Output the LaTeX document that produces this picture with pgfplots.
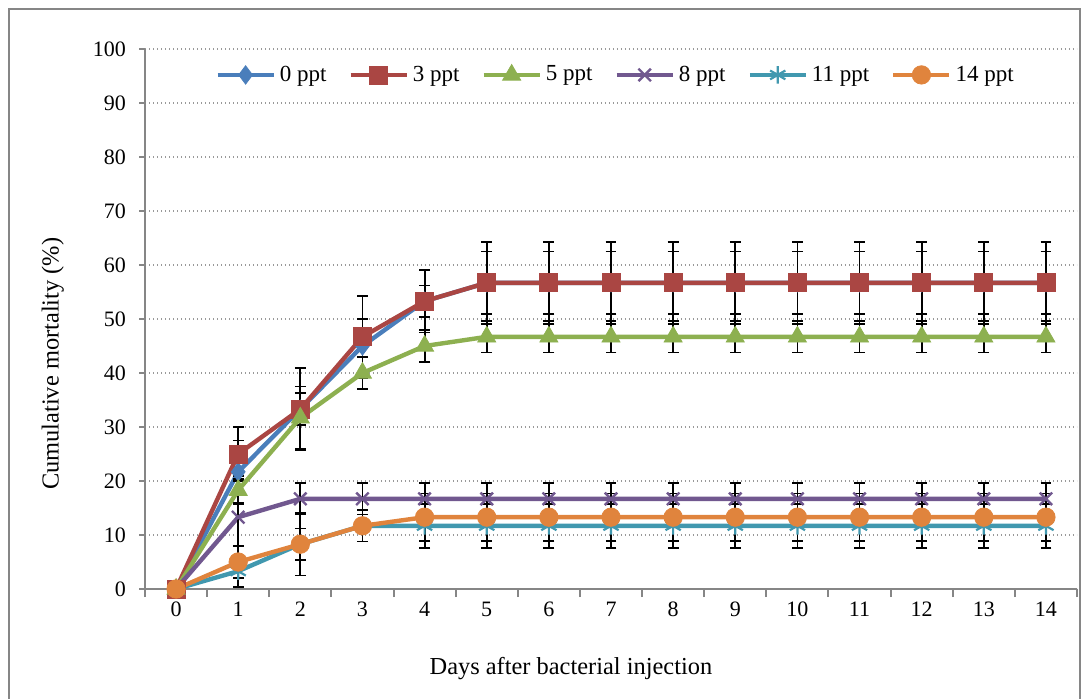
\documentclass[border=0pt]{standalone}
\usepackage{fontspec}
\setmainfont{Liberation Serif}
\usepackage{pgfplots}
\usepackage{pgfplotstable}
\pgfplotsset{compat=1.18}

\definecolor{sblue}{HTML}{4A7EBB}
\definecolor{sred}{HTML}{AA4643}
\definecolor{sgreen}{HTML}{8DB050}
\definecolor{spurple}{HTML}{71588F}
\definecolor{scyan}{HTML}{4198AF}
\definecolor{sorange}{HTML}{E0843D}
\definecolor{axgray}{HTML}{868686}

% day, mean cumulative mortality (%), error
\pgfplotstableread{
x y e
0 0 0
1 21.7 5.8
2 33.3 3.0
3 45.0 5.0
4 53.3 2.9
5 56.7 5.8
6 56.7 5.8
7 56.7 5.8
8 56.7 5.8
9 56.7 5.8
10 56.7 5.8
11 56.7 5.8
12 56.7 5.8
13 56.7 5.8
14 56.7 5.8
}\ppta
\pgfplotstableread{
x y e
0 0 0
1 25.0 5.0
2 33.3 7.6
3 46.7 7.6
4 53.3 5.8
5 56.7 7.6
6 56.7 7.6
7 56.7 7.6
8 56.7 7.6
9 56.7 7.6
10 56.7 7.6
11 56.7 7.6
12 56.7 7.6
13 56.7 7.6
14 56.7 7.6
}\pptb
\pgfplotstableread{
x y e
0 0 0
1 18.3 2.6
2 31.7 5.8
3 40.0 2.9
4 45.0 2.9
5 46.7 2.9
6 46.7 2.9
7 46.7 2.9
8 46.7 2.9
9 46.7 2.9
10 46.7 2.9
11 46.7 2.9
12 46.7 2.9
13 46.7 2.9
14 46.7 2.9
}\pptc
\pgfplotstableread{
x y e
0 0 0
1 13.3 7.1
2 16.7 2.9
3 16.7 2.9
4 16.7 2.9
5 16.7 2.9
6 16.7 2.9
7 16.7 2.9
8 16.7 2.9
9 16.7 2.9
10 16.7 2.9
11 16.7 2.9
12 16.7 2.9
13 16.7 2.9
14 16.7 2.9
}\pptd
\pgfplotstableread{
x y e
0 0 0
1 3.3 2.9
2 8.3 2.9
3 11.7 2.9
4 11.7 4.1
5 11.7 4.1
6 11.7 4.1
7 11.7 4.1
8 11.7 4.1
9 11.7 4.1
10 11.7 4.1
11 11.7 4.1
12 11.7 4.1
13 11.7 4.1
14 11.7 4.1
}\ppte
\pgfplotstableread{
x y e
0 0 0
1 5.0 2.9
2 8.3 5.8
3 11.7 2.9
4 13.3 4.4
5 13.3 4.4
6 13.3 4.4
7 13.3 4.4
8 13.3 4.4
9 13.3 4.4
10 13.3 4.4
11 13.3 4.4
12 13.3 4.4
13 13.3 4.4
14 13.3 4.4
}\pptf

\begin{document}
\begin{tikzpicture}[x=1pt,y=1pt]
\useasboundingbox (0,0) rectangle (542,349);
\draw[axgray, line width=0.8pt] (4.5,-2) -- (4.5,344.5) -- (540,344.5) -- (540,-2);
\begin{axis}[
    at={(72.5pt,54.5pt)}, anchor=south west,
    scale only axis, width=466pt, height=270pt,
    xmin=-0.5, xmax=14.5, ymin=0, ymax=100,
    axis x line=bottom, axis y line=left,
    axis line style={-, draw=axgray, line width=1pt},
    xtick={0,...,14}, ytick={0,10,...,100},
    minor xtick={-0.5,0.5,...,14.5},
    tick align=outside,
    major x tick style={draw=none},
    minor x tick style={draw=axgray, line width=1pt},
    major y tick style={draw=axgray, line width=1pt},
    major tick length=3pt, minor tick length=4pt,
    ymajorgrids,
    grid style={draw=gray!80, line width=0.7pt, dash pattern=on 0.7pt off 1.3pt},
    /pgf/number format/assume math mode=true,
    ticklabel style={font=\fontsize{11}{13}\selectfont},
    yticklabel style={xshift=-3pt},
    xlabel={Days after bacterial injection},
    ylabel={Cumulative mortality (\%)},
    label style={font=\fontsize{12.2}{14}\selectfont},
    xlabel style={at={(axis description cs:0.457,-0.148)}, anchor=center},
    ylabel style={at={(axis description cs:-0.099,0.417)}, anchor=center},
    legend columns=6,
    legend style={at={(0.506,0.952)}, anchor=center, draw=none, fill=none,
        font=\fontsize{11.5}{13}\selectfont,
        /tikz/every even column/.append style={column sep=9pt}},
    legend image code/.code={\draw[mark repeat=2,mark phase=2]
        plot coordinates {(0pt,0pt) (14pt,0pt) (28pt,0pt)};},
    every axis plot/.append style={line width=2.2pt},
    error bars/y dir=both, error bars/y explicit,
    error bars/error bar style={black, line width=0.9pt},
    error bars/error mark options={rotate=90, black, line width=0.9pt, mark size=2.7pt},
]
\addplot[sblue, mark=diamond*, mark size=4.6pt, mark options={line width=0.4pt}]
    table[x=x, y=y, y error=e] {\ppta};
\addlegendentry{0 ppt}
\addplot[sred, mark=square*, mark size=4.5pt, mark options={line width=0.4pt}]
    table[x=x, y=y, y error=e] {\pptb};
\addlegendentry{3 ppt}
\addplot[sgreen, mark=triangle*, mark size=5.2pt, mark options={line width=0.4pt}]
    table[x=x, y=y, y error=e] {\pptc};
\addlegendentry{5 ppt}
\addplot[spurple, mark=x, mark size=4.4pt, mark options={line width=1.2pt}]
    table[x=x, y=y, y error=e] {\pptd};
\addlegendentry{8 ppt}
\addplot[scyan, mark=asterisk, mark size=4.4pt, mark options={line width=1.1pt}]
    table[x=x, y=y, y error=e] {\ppte};
\addlegendentry{11 ppt}
\addplot[sorange, mark=*, mark size=4.6pt, mark options={line width=0.4pt}]
    table[x=x, y=y, y error=e] {\pptf};
\addlegendentry{14 ppt}
\end{axis}
\end{tikzpicture}
\end{document}
